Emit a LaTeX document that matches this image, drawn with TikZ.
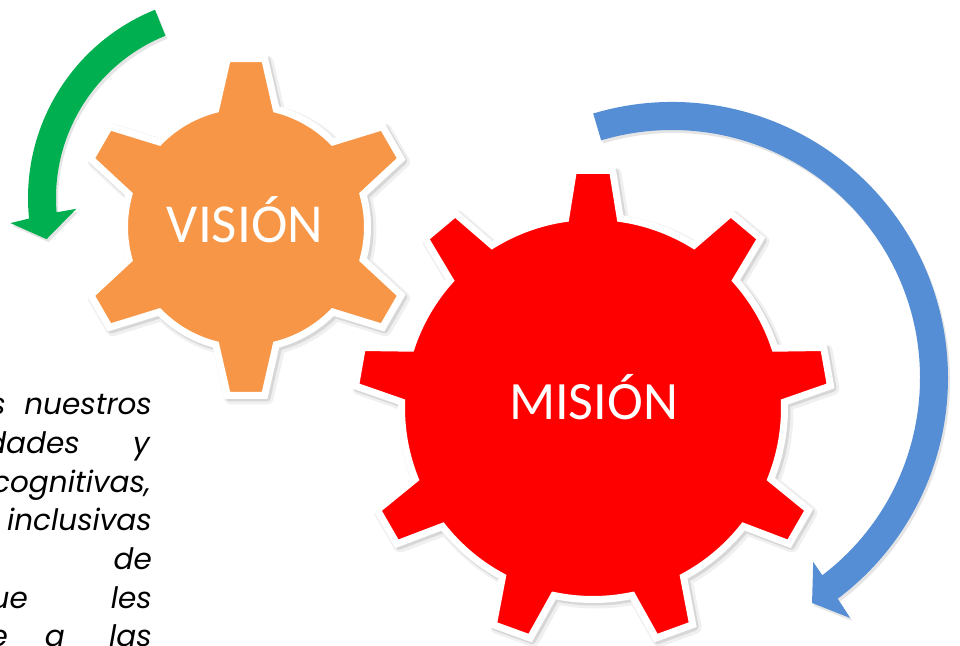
\documentclass[tikz,border=0pt]{standalone}
\usepackage{fontspec}
\setmainfont{Poppins}
\newfontfamily\calfont{Carlito}
\definecolor{gearorange}{HTML}{F79646}
\definecolor{gearred}{HTML}{FF0000}
\definecolor{arrowgreen}{HTML}{00B050}
\definecolor{arrowblue}{HTML}{558ED5}
\tikzset{
  geartext/.style={text=white, inner sep=0pt, anchor=base},
  bodytext/.style={font=\itshape\fontsize{29.5}{31}\selectfont, inner sep=0pt, anchor=base east, text=black},
  gearline/.style={draw=white, line width=7pt, line join=miter},
  softshadowA/.style={draw=black, draw opacity=0.06, line width=12pt, line join=round},
  softshadowB/.style={draw=black, draw opacity=0.10, line width=8pt, line join=round},
  arrowshadow/.style={fill=black, fill opacity=0.10},
}
% n, start angle, tip radius, base radius, tip half-angle, base half-angle
\newcommand{\gearpath}[6]{%
  ({#2-#6}:#4)
  \foreach \k in {1,...,#1}{
    -- ({#2+(\k-1)*360/#1-#5}:#3) -- ({#2+(\k-1)*360/#1+#5}:#3) -- ({#2+(\k-1)*360/#1+#6}:#4)
    arc[start angle={#2+(\k-1)*360/#1+#6}, end angle={#2+\k*360/#1-#6}, radius=#4]
  } -- cycle}
\newcommand{\greenarrowpath}{%
  (112:203) arc[start angle=112,end angle=185.8,radius=203] -- (186.5:222) -- (192.6:189)
  -- (184:155) -- (184.7:175) arc[start angle=184.7,end angle=112,radius=175] -- cycle}
\newcommand{\bluearrowpath}{%
  (106.6:276) arc[start angle=106.6,end angle=-53.1,radius=276] -- (-53.4:299) -- (-58.1:265)
  -- (-52.5:232) -- (-52.7:248) arc[start angle=-52.7,end angle=106.6,radius=248] -- cycle}
\begin{document}
\begin{tikzpicture}[x=1pt,y=1pt]
\useasboundingbox (0,0) rectangle (960,645);
\clip (0,0) rectangle (960,645);
\fill[white] (0,0) rectangle (960,645);

% green circular arrow
\begin{scope}[shift={(231,447)}]
  \path[arrowshadow, shift={(2,-3)}] \greenarrowpath;
  \fill[arrowgreen] \greenarrowpath;
\end{scope}

% blue circular arrow
\begin{scope}[shift={(672,267)}]
  \path[arrowshadow, shift={(2,-3)}] \bluearrowpath;
  \fill[arrowblue] \bluearrowpath;
\end{scope}

% orange gear
\begin{scope}[shift={(246,418)}]
  \path[softshadowA, shift={(3,-3)}] \gearpath{6}{90}{169.5}{121.5}{6.3}{14.4};
  \path[softshadowB, shift={(2,-2)}] \gearpath{6}{90}{169.5}{121.5}{6.3}{14.4};
  \path[gearline, fill=gearorange] \gearpath{6}{90}{169.5}{121.5}{6.3}{14.4};
\end{scope}
\node[geartext, font=\calfont\fontsize{55}{60}\selectfont] (vision) at (245,402) {VISIÓN};

% red gear
\begin{scope}[shift={(593,237)}]
  \path[softshadowA, shift={(3,-3)}] \gearpath{9}{90}{238.5}{191.5}{4.7}{8.2};
  \path[softshadowB, shift={(2,-2)}] \gearpath{9}{90}{238.5}{191.5}{4.7}{8.2};
  \path[gearline, fill=gearred] \gearpath{9}{90}{238.5}{191.5}{4.7}{8.2};
\end{scope}
\node[geartext, font=\calfont\fontsize{54}{60}\selectfont] (mision) at (593.5,225) {MISIÓN};

% justified paragraph, cut by the left and bottom edges
\node[bodytext] (l1a) at (6,230) {s};
\node[bodytext] (l1b) at (152,230) {nuestros};
\node[bodytext] (l2a) at (80,191.4) {dades};
\node[bodytext] (l2b) at (150,191.4) {y};
\node[bodytext] (l3a) at (151,152.8) {cognitivas,};
\node[bodytext] (l4a) at (152,114.2) {inclusivas};
\node[bodytext] (l5a) at (152,75.6) {de};
\node[bodytext] (l6a) at (28,37) {ue};
\node[bodytext] (l6b) at (152,37) {les};
\node[bodytext] (l7a) at (8,-1.6) {e};
\node[bodytext] (l7b) at (65,-1.6) {a};
\node[bodytext] (l7c) at (152,-1.6) {las};
\end{tikzpicture}
\end{document}
